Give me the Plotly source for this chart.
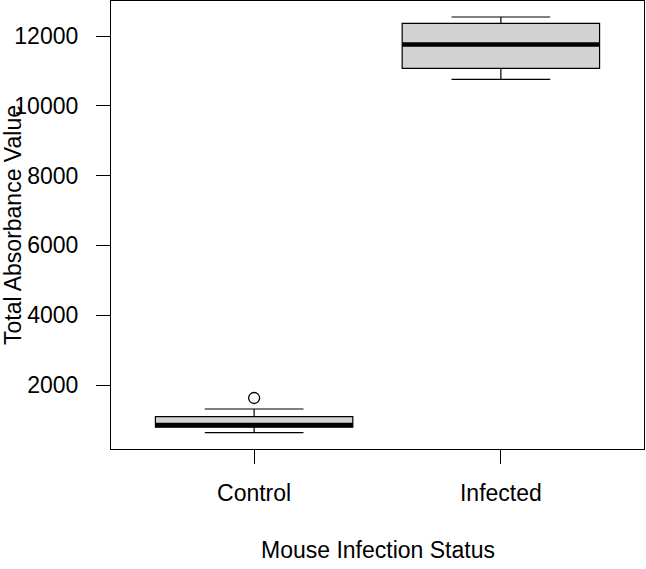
import plotly.graph_objects as go

categories = ["Control", "Infected"]
positions = [1, 2]
lower_whisker = [633, 10759]
q1 = [790, 11075]
median = [852, 11756]
q3 = [1092, 12364]
upper_whisker = [1312, 12545]
outlier_group = ["Control"]
outlier_values = [1628]
y_ticks = [2000, 4000, 6000, 8000, 10000, 12000]

BOX_W = 0.8
FONT = "Liberation Sans, Arial, Helvetica, sans-serif"
FS = 23

fig = go.Figure()
for i, cat in enumerate(categories):
    fig.add_trace(go.Box(
        x=[positions[i]], q1=[q1[i]], median=[median[i]], q3=[q3[i]],
        lowerfence=[lower_whisker[i]], upperfence=[upper_whisker[i]],
        width=BOX_W, whiskerwidth=0.5, fillcolor="#D3D3D3",
        line=dict(color="black", width=1.2), boxpoints=False,
        name=cat, showlegend=False, hoverinfo="skip",
    ))
    fig.add_trace(go.Scatter(
        x=[positions[i] - BOX_W / 2, positions[i] + BOX_W / 2],
        y=[median[i], median[i]], mode="lines",
        line=dict(color="black", width=4.5), showlegend=False, hoverinfo="skip",
    ))

fig.add_trace(go.Scatter(
    x=[positions[categories.index(g)] for g in outlier_group], y=outlier_values,
    mode="markers",
    marker=dict(symbol="circle-open", size=11, color="black", line=dict(width=1.3)),
    showlegend=False, hoverinfo="skip",
))

fig.update_layout(
    width=646, height=569,
    margin=dict(l=111, r=2, t=1, b=120),
    plot_bgcolor="white", paper_bgcolor="white",
    font=dict(family=FONT, size=FS, color="black"),
    xaxis=dict(range=[0.42, 2.58], tickvals=positions, ticktext=categories,
               showgrid=False, zeroline=False, showline=True, mirror=True,
               linecolor="black", linewidth=1.2, ticks="outside", ticklen=14,
               tickwidth=1.2, tickcolor="black", ticklabelstandoff=9),
    yaxis=dict(range=[166, 13003], tickvals=y_ticks, tickformat="d",
               showgrid=False, zeroline=False, showline=True, mirror=True,
               linecolor="black", linewidth=1.2, ticks="outside", ticklen=14,
               tickwidth=1.2, tickcolor="black", ticklabelstandoff=13),
    annotations=[
        dict(text="Mouse Infection Status", xref="paper", yref="paper",
             x=(378 - 111) / 533, y=(449 - 550) / 448, xanchor="center", yanchor="middle",
             showarrow=False, font=dict(size=FS)),
        dict(text="Total Absorbance Value", xref="paper", yref="paper",
             x=(13 - 111) / 533, y=0.5, xanchor="center", yanchor="middle",
             textangle=-90, showarrow=False, font=dict(size=FS)),
    ],
)

fig.write_html("out.html", config={"displayModeBar": False},
               post_script="document.body.style.margin='0';")
